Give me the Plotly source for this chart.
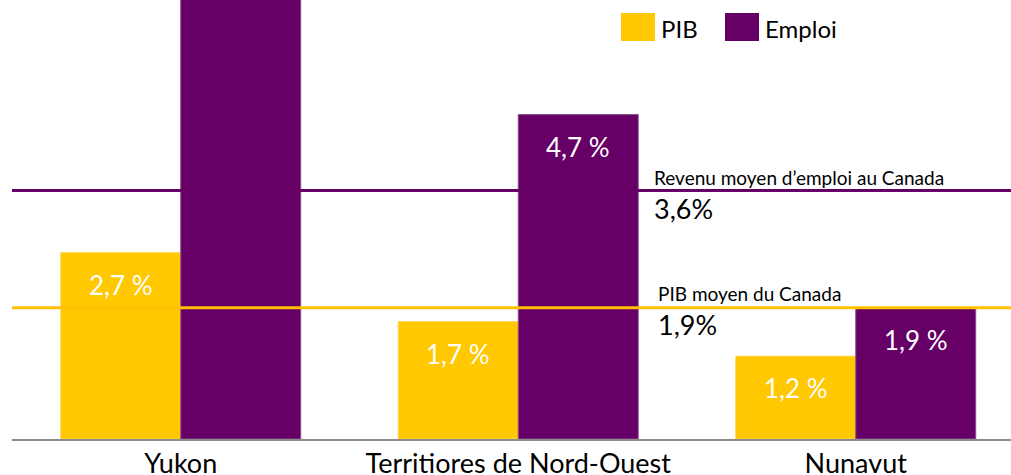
import plotly.graph_objects as go

# Data
categories = ["Yukon", "Territiores de Nord-Ouest", "Nunavut"]
pib = [2.7, 1.7, 1.2]
emploi = [7.0, 4.7, 1.9]          # Yukon employment bar runs off the top of the chart
pib_labels = ["2,7 %", "1,7 %", "1,2 %"]
emploi_labels = [None, "4,7 %", "1,9 %"]  # Yukon label hidden (off-chart)
avg_emploi = 3.6
avg_pib = 1.9
avg_emploi_title = "Revenu moyen d\u2019emploi au Canada"
avg_pib_title = "PIB moyen du Canada"
avg_emploi_label = "3,6%"
avg_pib_label = "1,9%"
series_names = ["PIB", "Emploi"]

YELLOW = "#FFC800"
YELLOW_LINE = "#FFC000"
PURPLE = "#660066"
FONT = "Lato"

fig = go.Figure()
fig.add_trace(go.Bar(x=categories, y=pib, name=series_names[0],
                     marker=dict(color=YELLOW, line=dict(color="#FFD24D", width=1)),
                     showlegend=False, hoverinfo="skip"))
fig.add_trace(go.Bar(x=categories, y=emploi, name=series_names[1],
                     marker=dict(color=PURPLE, line=dict(color="#8a4d8a", width=1)),
                     showlegend=False, hoverinfo="skip"))

W, H = 1011, 475
ml, mr, mt, mb = 12, 0, 0, 36
pw = W - ml - mr
ph = H - mt - mb
cat_px = 337.5
x_range = [-0.5, -0.5 + pw / cat_px]
y_max = 6.36
bargap = 0.289
group_w = 1 - bargap
bar_off_px = group_w / 4 * cat_px

annotations = []
for i, c in enumerate(categories):
    if pib_labels[i]:
        annotations.append(dict(x=c, y=pib[i], xref="x", yref="y", text=pib_labels[i],
                                showarrow=False, xshift=-bar_off_px, yshift=-32,
                                yanchor="middle", font=dict(family=FONT, size=26, color="white")))
    if emploi_labels[i]:
        annotations.append(dict(x=c, y=emploi[i], xref="x", yref="y", text=emploi_labels[i],
                                showarrow=False, xshift=bar_off_px, yshift=-32,
                                yanchor="middle", font=dict(family=FONT, size=26, color="white")))

def px_to_paper_x(px):
    return (px - ml) / pw

def py_to_paper_y(py):
    return (H - mb - py) / ph

# average lines annotations
annotations += [
    dict(x=px_to_paper_x(652), y=avg_emploi, xref="paper", yref="y", text=avg_emploi_title,
         showarrow=False, xanchor="left", yanchor="middle", yshift=13,
         font=dict(family=FONT, size=19, color="black")),
    dict(x=px_to_paper_x(652), y=avg_emploi, xref="paper", yref="y", text=avg_emploi_label,
         showarrow=False, xanchor="left", yanchor="middle", yshift=-18,
         font=dict(family=FONT, size=27, color="black")),
    dict(x=px_to_paper_x(656), y=avg_pib, xref="paper", yref="y", text=avg_pib_title,
         showarrow=False, xanchor="left", yanchor="middle", yshift=14,
         font=dict(family=FONT, size=19, color="black")),
    dict(x=px_to_paper_x(656), y=avg_pib, xref="paper", yref="y", text=avg_pib_label,
         showarrow=False, xanchor="left", yanchor="middle", yshift=-17,
         font=dict(family=FONT, size=27, color="black")),
]

# custom legend
annotations += [
    dict(x=px_to_paper_x(659), y=py_to_paper_y(28), xref="paper", yref="paper", text=series_names[0],
         showarrow=False, xanchor="left", yanchor="middle", font=dict(family=FONT, size=24, color="black")),
    dict(x=px_to_paper_x(763), y=py_to_paper_y(28), xref="paper", yref="paper", text=series_names[1],
         showarrow=False, xanchor="left", yanchor="middle", font=dict(family=FONT, size=24, color="black")),
]

shapes = [
    dict(type="line", xref="paper", yref="y", x0=0, x1=1, y0=avg_emploi, y1=avg_emploi,
         line=dict(color=PURPLE, width=3), layer="above"),
    dict(type="line", xref="paper", yref="y", x0=0, x1=1, y0=avg_pib, y1=avg_pib,
         line=dict(color=YELLOW_LINE, width=3), layer="above"),
    dict(type="rect", xref="paper", yref="paper",
         x0=px_to_paper_x(621), x1=px_to_paper_x(655), y0=py_to_paper_y(41), y1=py_to_paper_y(13),
         fillcolor=YELLOW, line=dict(width=0)),
    dict(type="rect", xref="paper", yref="paper",
         x0=px_to_paper_x(725), x1=px_to_paper_x(759), y0=py_to_paper_y(41), y1=py_to_paper_y(13),
         fillcolor=PURPLE, line=dict(width=0)),
]

fig.update_layout(
    width=W, height=H,
    margin=dict(l=ml, r=mr, t=mt, b=mb, pad=0),
    paper_bgcolor="white", plot_bgcolor="white",
    barmode="group", bargap=bargap, bargroupgap=0,
    showlegend=False,
    annotations=annotations, shapes=shapes,
    font=dict(family=FONT, color="black"),
    xaxis=dict(range=x_range, showline=True, linecolor="#8c8c8c", linewidth=2,
               ticks="", showgrid=False, zeroline=False, automargin=False,
               tickfont=dict(family=FONT, size=27, color="black")),
    yaxis=dict(range=[0, y_max], visible=False, showgrid=False, zeroline=False, automargin=False),
)

fig.write_html("out.html", config={"displayModeBar": False},
               post_script="document.body.style.margin='0';document.body.style.overflow='hidden';")
